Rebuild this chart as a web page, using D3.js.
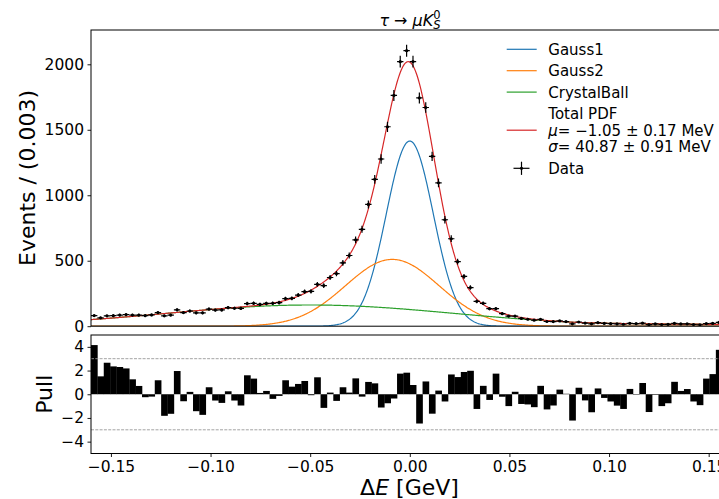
<!DOCTYPE html>
<html>
<head>
<meta charset="utf-8">
<script src="https://cdn.jsdelivr.net/npm/d3@7"></script>
<style>
body { margin: 0; background: #fff; }
svg { display: block; font-family: "DejaVu Sans", sans-serif; }
</style>
</head>
<body>
<script>
const width = 719, height = 499;

// histogram: 100 bins of 0.0032 GeV from -0.16
const binLo = -0.16, binWidth = 0.0032;

const counts = [
  81, 64, 79, 80, 85, 89, 85, 85, 80, 86,
  104, 79, 85, 125, 104, 116, 102, 102, 131, 123,
  124, 142, 137, 136, 173, 175, 166, 174, 175, 180,
  211, 213, 238, 264, 266, 320, 310, 372, 402, 484,
  540, 660, 740, 930, 1122, 1277, 1523, 1762, 2020, 2104,
  2021, 1743, 1670, 1297, 1095, 813, 668, 493, 380, 295,
  190, 175, 134, 134, 96, 77, 77, 59, 53, 46,
  52, 36, 35, 40, 35, 18, 32, 24, 18, 27,
  21, 19, 17, 15, 22, 19, 23, 12, 17, 13,
  14, 21, 17, 18, 13, 11, 20, 21, 29, 15
];

const pulls = [
  4.15, 1.51, 2.66, 2.35, 2.30, 2.18, 1.26, 0.70, -0.25, -0.20,
  1.18, -1.82, -1.65, 1.96, -0.59, 0.20, -1.43, -1.74, 0.59, -0.53,
  -0.73, 0.25, -0.53, -0.95, 1.60, 1.32, 0.11, 0.28, -0.39, -0.14,
  1.18, 0.64, 0.87, 1.12, -0.08, 1.43, -1.15, 0.14, -0.56, 0.59,
  0.14, 1.34, -0.20, 1.04, 0.92, -1.12, -0.76, -0.36, 1.74, 1.82,
  0.78, -2.47, 1.08, -1.64, 0.31, -0.61, 1.67, 1.45, 1.88, 1.98,
  -1.24, 0.71, -0.48, 1.74, -0.21, -1.00, 0.21, -0.82, -0.86, -1.09,
  0.71, -1.28, -0.95, 0.39, 0.04, -2.22, 0.55, -0.52, -1.52, 0.49,
  -0.31, -0.61, -0.96, -1.24, 0.45, -0.04, 0.95, -1.50, -0.05, -1.00,
  -0.76, 1.05, 0.28, 0.44, -0.61, -0.92, 1.32, 1.70, 3.75, 0.40
];

// fit components (events per bin): [amplitude, mean, sigma, (alpha, n)]
const gauss1Par = [1414, 0.0, 0.0118];
const gauss2Par = [510, -0.0088, 0.0235];
const cbPar = [162, -0.05, 0.072, 1.8, 0.54];

const xTicks = [-0.15, -0.10, -0.05, 0.00, 0.05, 0.10, 0.15];
const yTicks = [0, 500, 1000, 1500, 2000];
const pullTicks = [-4, -2, 0, 2, 4];
const pullLines = [-3, 3];

const colors = {
  gauss1: "#1f77b4",
  gauss2: "#ff7f0e",
  cb: "#2ca02c",
  total: "#d62728"
};

function gauss(v, p) {
  const t = (v - p[1]) / p[2];
  return p[0] * Math.exp(-t * t / 2);
}

function crystalBall(v, p) {
  const [amp, mu, sigma, alpha, n] = p;
  const t = (v - mu) / sigma;
  if (t <= alpha) return amp * Math.exp(-t * t / 2);
  const a = Math.pow(n / alpha, n) * Math.exp(-alpha * alpha / 2);
  const b = n / alpha - alpha;
  return amp * a * Math.pow(b + t, -n);
}

const svg = d3.select("body").append("svg")
    .attr("width", width)
    .attr("height", height);

svg.append("rect").attr("width", width).attr("height", height).attr("fill", "#fff");

const x = d3.scaleLinear().domain([-0.16, 0.16]).range([91, 728.6]);
const y = d3.scaleLinear().domain([0, 2262]).range([326.2, 30]);
const yPull = d3.scaleLinear().domain([-5, 5]).range([453.5, 335]);

const bins = counts.map((c, i) => ({
  lo: binLo + i * binWidth,
  hi: binLo + (i + 1) * binWidth,
  mid: binLo + (i + 0.5) * binWidth,
  count: c,
  pull: pulls[i]
}));

const defs = svg.append("defs");
defs.append("clipPath").attr("id", "clip-top")
  .append("rect").attr("x", x.range()[0]).attr("y", y.range()[1])
  .attr("width", x.range()[1] - x.range()[0]).attr("height", y.range()[0] - y.range()[1]);
defs.append("clipPath").attr("id", "clip-pull")
  .append("rect").attr("x", x.range()[0]).attr("y", yPull.range()[1])
  .attr("width", x.range()[1] - x.range()[0]).attr("height", yPull.range()[0] - yPull.range()[1]);

// ---- top panel: fit curves
const curves = [
  { key: "gauss1", f: v => gauss(v, gauss1Par) },
  { key: "gauss2", f: v => gauss(v, gauss2Par) },
  { key: "cb", f: v => crystalBall(v, cbPar) },
  { key: "total", f: v => gauss(v, gauss1Par) + gauss(v, gauss2Par) + crystalBall(v, cbPar) }
];

const xs = d3.range(0, 801).map(i => -0.16 + i * 0.0004);
const line = d3.line().x(d => x(d[0])).y(d => y(d[1]));

const topPlot = svg.append("g").attr("clip-path", "url(#clip-top)");

topPlot.selectAll(".curve")
  .data(curves)
  .enter()
  .append("path")
  .attr("class", "curve")
  .attr("d", c => line(xs.map(v => [v, c.f(v)])))
  .attr("fill", "none")
  .attr("stroke", c => colors[c.key])
  .attr("stroke-width", 1.2);

// data points with errors
const pts = topPlot.selectAll(".pt")
  .data(bins)
  .enter()
  .append("g")
  .attr("class", "pt");

pts.append("line")
  .attr("x1", d => x(d.lo)).attr("x2", d => x(d.hi))
  .attr("y1", d => y(d.count)).attr("y2", d => y(d.count))
  .attr("stroke", "#000").attr("stroke-width", 1.2);

pts.append("line")
  .attr("x1", d => x(d.mid)).attr("x2", d => x(d.mid))
  .attr("y1", d => y(d.count - Math.sqrt(d.count)))
  .attr("y2", d => y(d.count + Math.sqrt(d.count)))
  .attr("stroke", "#000").attr("stroke-width", 1.2);

pts.append("circle")
  .attr("cx", d => x(d.mid)).attr("cy", d => y(d.count))
  .attr("r", 1.6).attr("fill", "#000");

// ---- pull panel
const pullPlot = svg.append("g").attr("clip-path", "url(#clip-pull)");

pullPlot.selectAll(".bar")
  .data(bins)
  .enter()
  .append("rect")
  .attr("class", "bar")
  .attr("x", d => x(d.lo))
  .attr("width", d => x(d.hi) - x(d.lo) + 0.3)
  .attr("y", d => Math.min(yPull(0), yPull(d.pull)))
  .attr("height", d => Math.abs(yPull(d.pull) - yPull(0)))
  .attr("fill", "#000");

pullPlot.selectAll(".sigma")
  .data(pullLines)
  .enter()
  .append("line")
  .attr("x1", x.range()[0]).attr("x2", x.range()[1])
  .attr("y1", d => yPull(d)).attr("y2", d => yPull(d))
  .attr("stroke", "#999")
  .attr("stroke-width", 0.9)
  .attr("stroke-dasharray", "3,1.3");

// ---- axes
function styleAxis(g) {
  g.attr("font-family", "DejaVu Sans").attr("font-size", 15.5);
  g.select(".domain").remove();
  g.selectAll(".tick line").attr("stroke", "#000").attr("stroke-width", 0.9);
  g.selectAll(".tick text").attr("fill", "#000");
}

svg.append("g")
  .attr("transform", `translate(${x.range()[0]},0)`)
  .call(d3.axisLeft(y).tickValues(yTicks).tickSize(3.5).tickPadding(3.5).tickFormat(d3.format("d")))
  .call(styleAxis);

svg.append("g")
  .attr("transform", `translate(${x.range()[0]},0)`)
  .call(d3.axisLeft(yPull).tickValues(pullTicks).tickSize(3.5).tickPadding(3.5).tickFormat(d3.format("d")))
  .call(styleAxis);

svg.append("g")
  .attr("transform", `translate(0,${yPull.range()[0]})`)
  .call(d3.axisBottom(x).tickValues(xTicks).tickSize(3.5).tickPadding(3.5).tickFormat(d3.format(".2f")))
  .call(styleAxis);

// spines
function spines(yr) {
  const [x0, x1] = x.range();
  const [yb, yt] = yr;
  const g = svg.append("g").attr("stroke", "#000").attr("stroke-width", 1).attr("fill", "none");
  g.append("rect").attr("x", x0).attr("y", yt).attr("width", x1 - x0).attr("height", yb - yt);
}
spines(y.range());
spines(yPull.range());

// ---- labels
svg.append("text")
  .attr("transform", "translate(34.5,178) rotate(-90)")
  .attr("text-anchor", "middle")
  .attr("font-size", 22)
  .text("Events / (0.003)");

svg.append("text")
  .attr("transform", "translate(52,394.25) rotate(-90)")
  .attr("text-anchor", "middle")
  .attr("font-size", 22)
  .text("Pull");

const xlab = svg.append("text")
  .attr("x", 409.5).attr("y", 495)
  .attr("text-anchor", "middle")
  .attr("font-size", 22);
xlab.append("tspan").text("Δ");
xlab.append("tspan").attr("font-style", "italic").text("E");
xlab.append("tspan").text(" [GeV]");

// title  tau -> mu K_S^0
const titleG = svg.append("g");
const title = titleG.append("text").attr("x", 0).attr("y", 25.5).attr("font-size", 16);
title.append("tspan").attr("font-style", "italic").text("τ");
title.append("tspan").text(" → ");
title.append("tspan").attr("font-style", "italic").text("μK");
title.append("tspan").attr("font-style", "italic").attr("font-size", 11.5).attr("dy", 3.5).text("S");
const supX = title.node().getStartPositionOfChar(6).x;
titleG.append("text").attr("x", supX).attr("y", 18.5).attr("font-size", 11.5).text("0");
const tb = titleG.node().getBBox();
titleG.attr("transform", `translate(${410 - tb.x - tb.width / 2},0)`);

// ---- legend
const legendItems = [
  { key: "gauss1", lines: [["Gauss1"]] },
  { key: "gauss2", lines: [["Gauss2"]] },
  { key: "cb", lines: [["CrystalBall"]] },
  { key: "total", lines: [["Total PDF"], [["μ", true], "= −1.05 ± 0.17 MeV"], [["σ", true], "= 40.87 ± 0.91 MeV"]] },
  { key: "data", lines: [["Data"]] }
];

const legLineH = 16.7, legGap = 4.7, legFont = 15;
let cursor = 40.95;
const legend = svg.append("g");
legendItems.forEach(item => {
  const h = item.lines.length * legLineH;
  const cy = cursor + h / 2;
  if (item.key === "data") {
    legend.append("line").attr("x1", 513.5).attr("x2", 529.5).attr("y1", cy).attr("y2", cy)
      .attr("stroke", "#000").attr("stroke-width", 1.2);
    legend.append("line").attr("x1", 521.5).attr("x2", 521.5).attr("y1", cy - 6.6).attr("y2", cy + 6.6)
      .attr("stroke", "#000").attr("stroke-width", 1.2);
    legend.append("circle").attr("cx", 521.5).attr("cy", cy).attr("r", 1.6).attr("fill", "#000");
  } else {
    legend.append("line").attr("x1", 506.7).attr("x2", 536.7).attr("y1", cy).attr("y2", cy)
      .attr("stroke", colors[item.key]).attr("stroke-width", 1.2);
  }
  item.lines.forEach((segs, k) => {
    const t = legend.append("text")
      .attr("x", 548.3)
      .attr("y", cursor + (k + 0.5) * legLineH + 0.36 * legFont)
      .attr("font-size", legFont);
    segs.forEach(s => {
      if (Array.isArray(s)) t.append("tspan").attr("font-style", "italic").text(s[0]);
      else t.append("tspan").text(s);
    });
  });
  cursor += h + legGap;
});
</script>
</body>
</html>
